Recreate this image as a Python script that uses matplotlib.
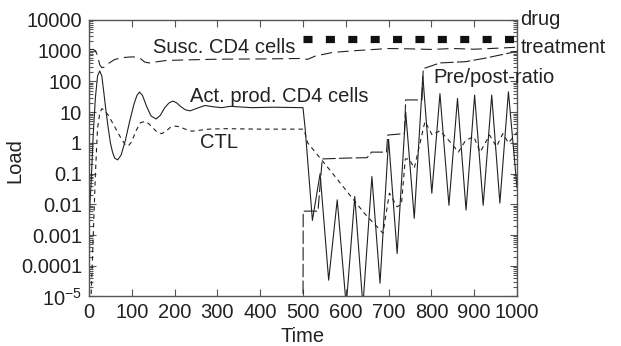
import numpy as np
import matplotlib.pyplot as plt
from matplotlib.ticker import FixedLocator, LogLocator, NullFormatter

plt.rcParams["font.family"] = ["Liberation Sans", "DejaVu Sans"]
plt.rcParams["mathtext.default"] = "regular"

# susceptible CD4 cells (long dashes)
susc_t = [0, 10, 15, 20, 25, 30, 35, 45, 60, 80, 100, 112, 122, 130, 140, 155,
          180, 220, 300, 400, 500, 510, 530, 570, 620, 700, 750, 800, 850, 900,
          950, 1000]
susc_v = [1100, 1100, 1000, 700, 350, 280, 290, 380, 520, 600, 630, 620, 530,
          430, 400, 430, 480, 500, 530, 540, 560, 520, 680, 880, 1000, 1180,
          1150, 1100, 1180, 1120, 1200, 1300]

# actively producing CD4 cells (solid)
act_t = [0, 5, 10, 15, 20, 25, 30, 35, 40, 45, 50, 55, 60, 67, 75, 85, 95,
         105, 112, 118, 125, 135, 145, 157, 167, 177, 187, 196, 205, 215, 225,
         236, 250, 271, 290, 310, 330, 380, 430, 500,
         505, 522, 540, 560, 580, 601, 621, 640, 661, 680, 700, 720, 740, 760,
         780, 801, 820, 841, 861, 881, 901, 921, 941, 960, 980, 1000]
act_v = [0.003, 0.05, 2, 30, 150, 220, 150, 40, 10, 3, 1, 0.5, 0.32, 0.28,
         0.4, 1.2, 5, 18, 35, 45, 35, 15, 7.5, 6, 8, 14, 20, 23, 20, 15, 12,
         11, 13, 16.5, 15, 14, 15.5, 14, 14.5, 14,
         3, 0.003, 0.1, 3.4e-5, 0.014, 5e-6, 0.018, 5e-6, 0.08, 2.7e-5, 1.3,
         2.5e-4, 10, 0.0035, 150, 0.023, 40, 0.0093, 28, 0.0065, 36, 0.0093,
         36, 0.011, 46, 0.035]

# CTL (short dashes)
ctl_t = [0, 5, 10, 15, 20, 25, 30, 35, 45, 55, 65, 75, 85, 92, 100, 110, 120,
         130, 140, 150, 160, 170, 180, 190, 200, 210, 225, 240, 260, 280, 320,
         400, 500,
         505, 511, 566, 644, 687, 693, 702, 720, 730, 739, 748, 760, 785, 802,
         820, 846, 863, 880, 899, 914, 936, 952, 967, 980, 1000]
ctl_v = [1e-6, 1e-5, 0.001, 0.1, 3, 9, 13, 12, 8, 4.5, 2.5, 1.4, 0.85, 0.8,
         1.1, 2.5, 4.5, 5, 4.2, 3, 2.2, 2, 2.4, 3.2, 3.5, 3.4, 2.8, 2.4, 2.6,
         2.8, 2.9, 2.8, 2.8,
         2, 1, 0.115, 0.005, 0.00115, 0.004, 0.023, 0.0083, 0.01, 0.3, 0.3,
         0.15, 5, 1.8, 2.5, 1.0, 0.5, 1.2, 1.6, 0.5, 1.8, 0.75, 2.0, 1.0, 2.2]

# pre/post ratio (long dashes, from treatment start)
ratio_t = [500, 500.5, 535, 545, 600, 650, 660, 695, 698, 737, 740, 778, 781,
           820, 880, 925, 980, 1000]
ratio_v = [1e-6, 0.006, 0.006, 0.3, 0.32, 0.33, 0.5, 0.5, 1.8, 2.0, 25, 25,
           260, 400, 440, 570, 830, 950]

# drug treatment period
drug_t = [500, 1000]
drug_level = 2350

x_ticks = [0, 100, 200, 300, 400, 500, 600, 700, 800, 900, 1000]
y_ticks = [1e-5, 1e-4, 1e-3, 1e-2, 1e-1, 1, 10, 100, 1000, 10000]
y_labels = ["$10^{-5}$", "0.0001", "0.001", "0.01", "0.1", "1", "10", "100",
            "1000", "10000"]

ink = "#222222"
fs = 14.5
fig = plt.figure(figsize=(6.21, 3.46), dpi=100)
ax = fig.add_axes([0.1433, 0.1431, 0.6892, 0.7991])

ax.plot(susc_t, susc_v, color=ink, lw=0.8, dashes=(10, 5))
ax.plot(act_t, act_v, color=ink, lw=0.8)
ax.plot(ctl_t, ctl_v, color=ink, lw=0.8, dashes=(4, 3.5))
ax.plot(ratio_t, ratio_v, color=ink, lw=0.8, dashes=(12, 3))
ax.plot(drug_t, [drug_level] * 2, color="#111111", lw=5.2,
        dashes=(1.25, 1.85), solid_capstyle="butt", dash_capstyle="butt")

ax.set_yscale("log")
ax.set_xlim(0, 1000)
ax.set_ylim(1e-5, 1e4)
ax.xaxis.set_major_locator(FixedLocator(x_ticks))
ax.set_xticklabels([str(t) for t in x_ticks])
ax.yaxis.set_major_locator(FixedLocator(y_ticks))
ax.set_yticklabels(y_labels)
ax.yaxis.set_minor_locator(LogLocator(base=10, subs=np.arange(2, 10), numticks=20))
ax.yaxis.set_minor_formatter(NullFormatter())

ax.tick_params(which="both", direction="in", top=True, right=True,
               color="#555555", width=0.8, labelsize=fs, labelcolor=ink, pad=5)
ax.tick_params(which="major", length=5)
ax.tick_params(which="minor", length=3)
for sp in ax.spines.values():
    sp.set_color("#555555")
    sp.set_linewidth(1.0)

ax.set_xlabel("Time", fontsize=fs, color=ink)
ax.set_ylabel("Load", fontsize=fs, color=ink)
ax.xaxis.set_label_coords(0.5, -0.11)
ax.yaxis.set_label_coords(-0.15, 0.49)

ax.text(150, 1300, "Susc. CD4 cells", fontsize=fs, color=ink, va="center")
ax.text(236, 33, "Act. prod. CD4 cells", fontsize=fs, color=ink, va="center")
ax.text(259, 1.0, "CTL", fontsize=fs, color=ink, va="center")
ax.text(804, 130, "Pre/post-ratio", fontsize=fs, color=ink, va="center",
        clip_on=False)
ax.text(1008, 10000, "drug", fontsize=fs, color=ink, va="center", clip_on=False)
ax.text(1008, 1230, "treatment", fontsize=fs, color=ink, va="center",
        clip_on=False)

fig.savefig("out.png", dpi=100)
